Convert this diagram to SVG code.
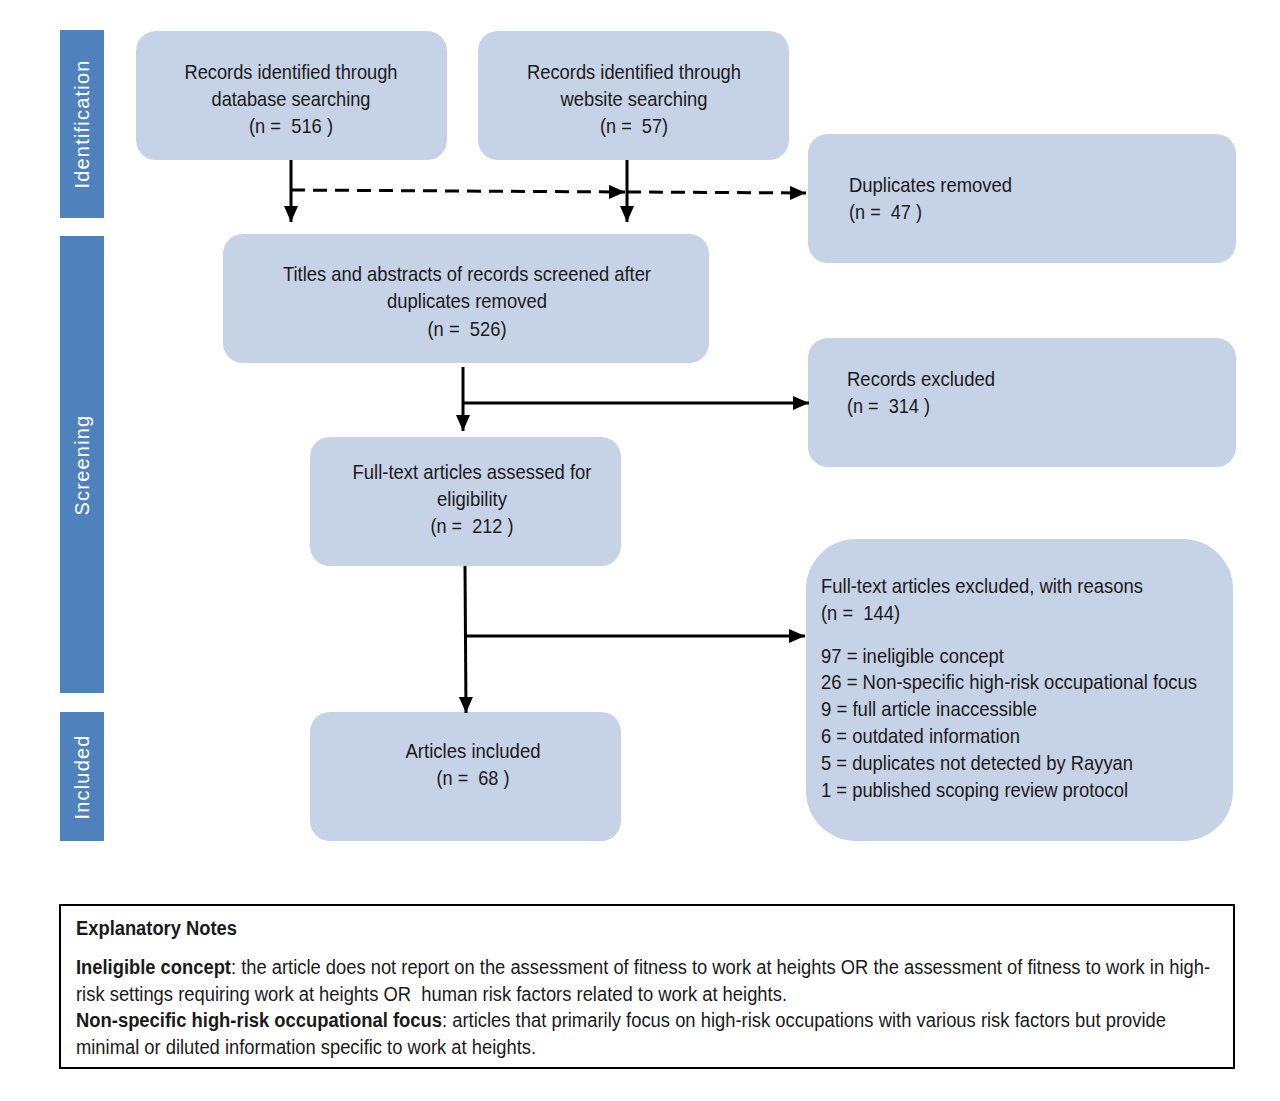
<svg xmlns="http://www.w3.org/2000/svg" width="1280" height="1101" viewBox="0 0 1280 1101">
<defs>
<style>
.bar{fill:#4f81bd}
.box{fill:#c6d2e6}
.bl{font-family:"Liberation Sans",Arial,sans-serif;font-size:20px;fill:#fff;letter-spacing:1.2px}
.t{font-family:"Liberation Sans",Arial,sans-serif;font-size:21px;fill:#1a1a1a;white-space:pre}
.n{font-family:"Liberation Sans",Arial,sans-serif;font-size:20px;fill:#1a1a1a;white-space:pre}
.c{text-anchor:middle}
.ln{stroke:#000;stroke-width:3;fill:none}
.dash{stroke-dasharray:14 8}
</style>
<marker id="ah" viewBox="0 0 16 14" refX="16" refY="7" markerWidth="16" markerHeight="14" markerUnits="userSpaceOnUse" orient="auto">
<path d="M0,0 L16,7 L0,14 Z" fill="#000"/>
</marker>
</defs>
<rect width="1280" height="1101" fill="#fff"/>

<g id="bar-identification">
<rect class="bar" x="60" y="30" width="44" height="188"/>
<text class="bl c" transform="translate(89,124) rotate(-90)">Identification</text>
</g>
<g id="bar-screening">
<rect class="bar" x="60" y="236" width="44" height="457"/>
<text class="bl c" transform="translate(89,465) rotate(-90)">Screening</text>
</g>
<g id="bar-included">
<rect class="bar" x="60" y="712" width="44" height="129"/>
<text class="bl c" transform="translate(89,777) rotate(-90)">Included</text>
</g>

<g id="node-database">
<rect class="box" x="136" y="31" width="311" height="129" rx="20"/>
<text class="t c" x="291" y="79" textLength="213" lengthAdjust="spacingAndGlyphs">Records identified through</text>
<text class="t c" x="291" y="106" textLength="159" lengthAdjust="spacingAndGlyphs">database searching</text>
<text class="t c" x="291" y="133" textLength="84" lengthAdjust="spacingAndGlyphs">(n =  516 )</text>
</g>
<g id="node-website">
<rect class="box" x="478" y="31" width="311" height="129" rx="20"/>
<text class="t c" x="634" y="79" textLength="214" lengthAdjust="spacingAndGlyphs">Records identified through</text>
<text class="t c" x="634" y="106" textLength="147" lengthAdjust="spacingAndGlyphs">website searching</text>
<text class="t c" x="634" y="133" textLength="68" lengthAdjust="spacingAndGlyphs">(n =  57)</text>
</g>
<g id="node-duplicates">
<rect class="box" x="808" y="134" width="428" height="129" rx="20"/>
<text class="t" x="849" y="192" textLength="163" lengthAdjust="spacingAndGlyphs">Duplicates removed</text>
<text class="t" x="849" y="219" textLength="73" lengthAdjust="spacingAndGlyphs">(n =  47 )</text>
</g>
<g id="node-screened">
<rect class="box" x="223" y="234" width="486" height="129" rx="20"/>
<text class="t c" x="467" y="281" textLength="368" lengthAdjust="spacingAndGlyphs">Titles and abstracts of records screened after</text>
<text class="t c" x="467" y="308" textLength="160" lengthAdjust="spacingAndGlyphs">duplicates removed</text>
<text class="t c" x="467" y="336" textLength="79" lengthAdjust="spacingAndGlyphs">(n =  526)</text>
</g>
<g id="node-excluded">
<rect class="box" x="808" y="338" width="428" height="129" rx="20"/>
<text class="t" x="847" y="386" textLength="148" lengthAdjust="spacingAndGlyphs">Records excluded</text>
<text class="t" x="847" y="413" textLength="83" lengthAdjust="spacingAndGlyphs">(n =  314 )</text>
</g>
<g id="node-fulltext">
<rect class="box" x="310" y="437" width="311" height="129" rx="20"/>
<text class="t c" x="472" y="479" textLength="239" lengthAdjust="spacingAndGlyphs">Full-text articles assessed for</text>
<text class="t c" x="472" y="506" textLength="70" lengthAdjust="spacingAndGlyphs">eligibility</text>
<text class="t c" x="472" y="533" textLength="83" lengthAdjust="spacingAndGlyphs">(n =  212 )</text>
</g>
<g id="node-ft-excluded">
<rect class="box" x="806" y="539" width="427" height="302" rx="50"/>
<text class="t" x="821" y="593" textLength="322" lengthAdjust="spacingAndGlyphs">Full-text articles excluded, with reasons</text>
<text class="t" x="821" y="620" textLength="79" lengthAdjust="spacingAndGlyphs">(n =  144)</text>
<text class="t" x="821" y="663" textLength="183" lengthAdjust="spacingAndGlyphs">97 = ineligible concept</text>
<text class="t" x="821" y="689" textLength="376" lengthAdjust="spacingAndGlyphs">26 = Non-specific high-risk occupational focus</text>
<text class="t" x="821" y="716" textLength="216" lengthAdjust="spacingAndGlyphs">9 = full article inaccessible</text>
<text class="t" x="821" y="743" textLength="199" lengthAdjust="spacingAndGlyphs">6 = outdated information</text>
<text class="t" x="821" y="770" textLength="312" lengthAdjust="spacingAndGlyphs">5 = duplicates not detected by Rayyan</text>
<text class="t" x="821" y="797" textLength="307" lengthAdjust="spacingAndGlyphs">1 = published scoping review protocol</text>
</g>
<g id="node-included">
<rect class="box" x="310" y="712" width="311" height="129" rx="20"/>
<text class="t c" x="473" y="758" textLength="135" lengthAdjust="spacingAndGlyphs">Articles included</text>
<text class="t c" x="473" y="785" textLength="73" lengthAdjust="spacingAndGlyphs">(n =  68 )</text>
</g>

<g id="connectors">
<line class="ln" x1="291" y1="160" x2="291" y2="222" marker-end="url(#ah)"/>
<line class="ln" x1="627" y1="160" x2="627" y2="222" marker-end="url(#ah)"/>
<line class="ln dash" x1="291" y1="190" x2="625" y2="192" marker-end="url(#ah)"/>
<line class="ln dash" x1="627" y1="192" x2="806" y2="193" marker-end="url(#ah)"/>
<line class="ln" x1="463" y1="367" x2="463" y2="431" marker-end="url(#ah)"/>
<line class="ln" x1="463" y1="403" x2="809" y2="403" marker-end="url(#ah)"/>
<line class="ln" x1="465" y1="566" x2="466" y2="713" marker-end="url(#ah)"/>
<line class="ln" x1="465" y1="636" x2="805" y2="636" marker-end="url(#ah)"/>
</g>

<g id="notes">
<rect x="60" y="905" width="1174" height="163" fill="none" stroke="#000" stroke-width="2"/>
<text class="n" x="76" y="935" font-weight="bold" textLength="161" lengthAdjust="spacingAndGlyphs">Explanatory Notes</text>
<text class="n" x="76" y="974" textLength="1134" lengthAdjust="spacingAndGlyphs"><tspan font-weight="bold">Ineligible concept</tspan>: the article does not report on the assessment of fitness to work at heights OR the assessment of fitness to work in high-</text>
<text class="n" x="76" y="1001" textLength="711" lengthAdjust="spacingAndGlyphs">risk settings requiring work at heights OR  human risk factors related to work at heights.</text>
<text class="n" x="76" y="1027" textLength="1090" lengthAdjust="spacingAndGlyphs"><tspan font-weight="bold">Non-specific high-risk occupational focus</tspan>: articles that primarily focus on high-risk occupations with various risk factors but provide</text>
<text class="n" x="76" y="1054" textLength="460" lengthAdjust="spacingAndGlyphs">minimal or diluted information specific to work at heights.</text>
</g>
</svg>
